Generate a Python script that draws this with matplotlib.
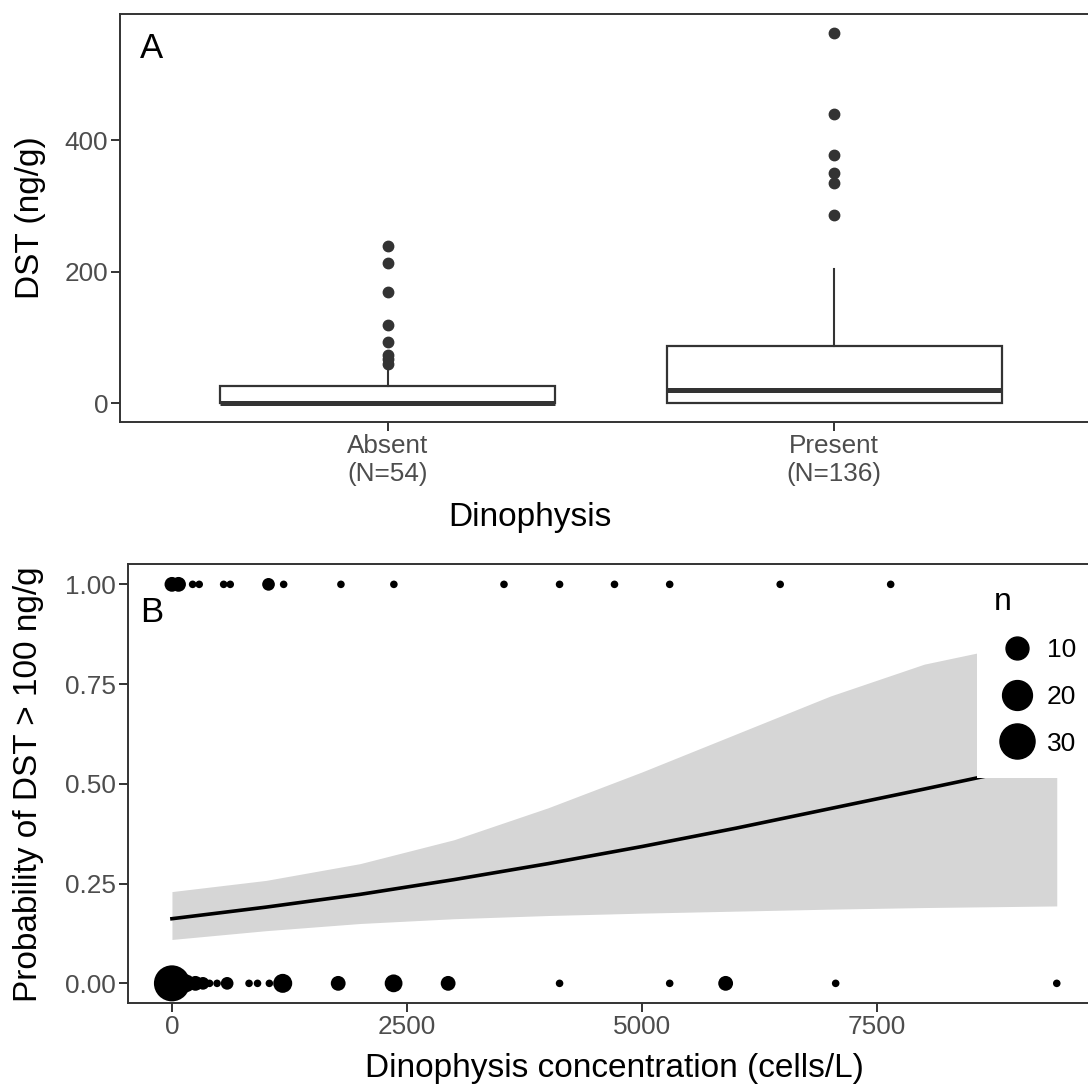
import numpy as np
import matplotlib
matplotlib.use('Agg')
import matplotlib.pyplot as plt
from matplotlib.lines import Line2D
from matplotlib.patches import Rectangle

plt.rcParams['font.family'] = ['Liberation Sans', 'DejaVu Sans']

# panel A: DST by Dinophysis presence
groups = ['Absent', 'Present']
group_n = [54, 136]
box_q1 = [0, 0]
box_med = [0, 20]
box_q3 = [26, 87]
whisk_lo = [0, 0]
whisk_hi = [52, 205]
outliers = [
    [60, 67, 74, 94, 119, 169, 214, 240],
    [286, 335, 350, 378, 440, 564],
]

# panel B: binary outcome counts (n) at each concentration
top_x = [0, 70, 220, 290, 550, 620, 1027, 1188, 1797, 2360, 3531, 4122, 4706, 5293, 6468, 7643]
top_n = [3, 3, 1, 1, 1, 1, 2, 1, 1, 1, 1, 1, 1, 1, 1, 1]
bottom_x = [0, 150, 250, 330, 400, 480, 587, 820, 910, 1036, 1178, 1768, 2357, 2937, 4122, 5293, 5888, 7058, 9409]
bottom_n = [32, 5, 3, 2, 1, 1, 2, 1, 1, 1, 6, 3, 5, 3, 1, 1, 3, 1, 1]

# fitted logistic curve with confidence band
fit_x = [0, 1000, 2000, 3000, 4000, 5000, 6000, 7000, 8000, 9409]
fit_p = [0.162, 0.191, 0.223, 0.260, 0.300, 0.343, 0.389, 0.438, 0.487, 0.557]
fit_lo = [0.110, 0.132, 0.150, 0.162, 0.170, 0.176, 0.181, 0.186, 0.190, 0.194]
fit_hi = [0.230, 0.258, 0.300, 0.360, 0.440, 0.530, 0.625, 0.720, 0.800, 0.870]

legend_n = [10, 20, 30]

DARK = '#333333'
TICKCOL = '#4D4D4D'
W, H = 1088, 1084
TICK_FS = 18.8
TITLE_FS = 24

fig = plt.figure(figsize=(W / 100, H / 100), dpi=100)


def px_box(left, top, right, bottom):
    return [left / W, 1 - bottom / H, (right - left) / W, (bottom - top) / H]


def style_axes(ax):
    for s in ax.spines.values():
        s.set_color(DARK)
        s.set_linewidth(1.4)
    ax.tick_params(colors=DARK, width=1.4, length=6.5, labelsize=TICK_FS,
                   labelcolor=TICKCOL, pad=2)


# ---- panel A ----
axA = fig.add_axes(px_box(120, 14, 1102, 422))
stats = []
for i in range(len(groups)):
    stats.append(dict(q1=box_q1[i], med=box_med[i], q3=box_q3[i],
                      whislo=whisk_lo[i], whishi=whisk_hi[i],
                      fliers=outliers[i], label=f'{groups[i]}\n(N={group_n[i]})'))
axA.bxp(stats, positions=[1, 2], widths=0.75, showcaps=False, patch_artist=True,
        boxprops=dict(facecolor='white', edgecolor=DARK, linewidth=1.6),
        whiskerprops=dict(color=DARK, linewidth=1.5),
        medianprops=dict(color=DARK, linewidth=3.6),
        flierprops=dict(marker='o', markerfacecolor=DARK, markeredgecolor=DARK,
                        markersize=7.5))
ymax = max(max(o) for o in outliers)
axA.set_xlim(0.4, 2.6)
axA.set_ylim(-0.05 * ymax, 1.05 * ymax)
axA.set_yticks([0, 200, 400])
style_axes(axA)
axA.set_ylabel('DST (ng/g)', fontsize=TITLE_FS)
axA.yaxis.set_label_coords((46 - 120) / 982, 0.5)
axA.set_xlabel('Dinophysis', fontsize=TITLE_FS)
axA.xaxis.set_label_coords((530 - 120) / 982, (422 - 502) / 408)
axA.text((140 - 120) / 982, (422 - 49) / 408, 'A', transform=axA.transAxes,
         fontsize=25, ha='left', va='center')

# ---- panel B ----
axB = fig.add_axes(px_box(127.7, 564.4, 1101, 1003.3))
axB.fill_between(fit_x, fit_lo, fit_hi, color='#D6D6D6', linewidth=0, zorder=1)
axB.plot(fit_x, fit_p, color='black', linewidth=2.6, zorder=2)

n_min, n_max = 1, 32


def dot_diameter(n):
    # point size scale (area-like) converted to points at this dpi
    size = 1 + 5 * np.sqrt((np.asarray(n, float) - n_min) / (n_max - n_min))
    return 2.0 * (2.845 * size + 0.945) * 0.72


axB.scatter(top_x, np.ones(len(top_x)), s=dot_diameter(top_n) ** 2,
            color='black', linewidths=0, zorder=4)
axB.scatter(bottom_x, np.zeros(len(bottom_x)), s=dot_diameter(bottom_n) ** 2,
            color='black', linewidths=0, zorder=4)

xmax = max(max(top_x), max(bottom_x))
axB.set_xlim(-0.05 * xmax, 1.05 * xmax)
axB.set_ylim(-0.05, 1.05)
axB.set_xticks([0, 2500, 5000, 7500])
axB.set_yticks([0, 0.25, 0.5, 0.75, 1.0])
axB.set_yticklabels(['0.00', '0.25', '0.50', '0.75', '1.00'])
style_axes(axB)
axB.set_ylabel('Probability of DST > 100 ng/g', fontsize=TITLE_FS)
axB.yaxis.set_label_coords((44 - 127.7) / 973.3, 0.5)
axB.set_xlabel('Dinophysis concentration (cells/L)', fontsize=TITLE_FS)
axB.xaxis.set_label_coords(0.5, (1003.3 - 1053) / 438.9)
axB.text((140 - 127.7) / 973.3, (1003.3 - 612) / 438.9, 'B', transform=axB.transAxes,
         fontsize=25, ha='left', va='center')

# white legend background over the band
axB.add_patch(Rectangle((977 / W, 1 - 778 / H), (W - 977) / W, 190 / H,
                        transform=fig.transFigure, facecolor='white',
                        edgecolor='none', zorder=3))
handles = [Line2D([], [], marker='o', linestyle='', color='black',
                  markersize=float(dot_diameter(v))) for v in legend_n]
leg = axB.legend(handles, [str(v) for v in legend_n], title='n',
                 loc='upper left', bbox_to_anchor=(975 / W, 1 - 569 / H),
                 bbox_transform=fig.transFigure, frameon=False,
                 fontsize=19, title_fontsize=23, handletextpad=0.23,
                 labelspacing=0.86, handlelength=1.8, alignment='left',
                 borderpad=0.2)
leg._legend_box.sep = 15
leg.set_zorder(5)

fig.savefig('out.png', dpi=100)
